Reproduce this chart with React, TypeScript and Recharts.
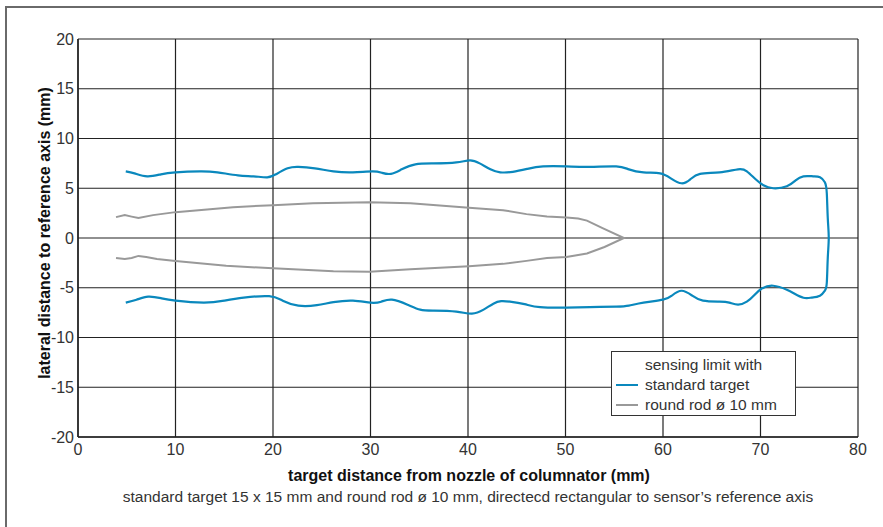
import React from 'react';
import { ComposedChart, Line, XAxis, YAxis, CartesianGrid, Legend, Label } from 'recharts';

type Pt = { x: number; y: number };

const xTicks = [0, 10, 20, 30, 40, 50, 60, 70, 80];
const yTicks = [-20, -15, -10, -5, 0, 5, 10, 15, 20];
const seriesNames = ['standard target', 'round rod ø 10 mm'];

const standardTargetUpper: Pt[] = [
  { x: 4.9, y: 6.7 }, { x: 5.8, y: 6.5 }, { x: 7.1, y: 6.2 }, { x: 8.5, y: 6.4 }, { x: 10, y: 6.6 },
  { x: 12.5, y: 6.7 }, { x: 14.3, y: 6.6 }, { x: 16.4, y: 6.3 }, { x: 18, y: 6.2 }, { x: 19.4, y: 6.1 },
  { x: 20.3, y: 6.4 }, { x: 21.5, y: 7.0 }, { x: 22.6, y: 7.15 }, { x: 24.3, y: 7.0 }, { x: 26.2, y: 6.7 },
  { x: 28.2, y: 6.6 }, { x: 30.2, y: 6.7 }, { x: 31.2, y: 6.55 }, { x: 32.1, y: 6.45 }, { x: 33.2, y: 6.9 },
  { x: 34.6, y: 7.4 }, { x: 36.5, y: 7.5 }, { x: 38.8, y: 7.6 }, { x: 40.2, y: 7.8 }, { x: 41.2, y: 7.5 },
  { x: 42.3, y: 6.9 }, { x: 43.3, y: 6.6 }, { x: 44.6, y: 6.65 }, { x: 46.1, y: 6.95 }, { x: 47.7, y: 7.2 },
  { x: 50.1, y: 7.2 }, { x: 52.5, y: 7.15 }, { x: 55.2, y: 7.2 }, { x: 56.5, y: 6.9 }, { x: 58, y: 6.6 },
  { x: 59.7, y: 6.5 }, { x: 60.8, y: 6.0 }, { x: 61.9, y: 5.5 }, { x: 62.8, y: 5.9 }, { x: 63.8, y: 6.45 },
  { x: 65.8, y: 6.6 }, { x: 67.7, y: 6.9 }, { x: 68.6, y: 6.7 }, { x: 69.5, y: 5.9 }, { x: 70.3, y: 5.3 },
  { x: 71.3, y: 5.0 }, { x: 72.7, y: 5.2 }, { x: 73.6, y: 5.8 }, { x: 74.4, y: 6.2 }, { x: 75.4, y: 6.2 },
  { x: 76.1, y: 6.1 }, { x: 76.6, y: 5.6 },
];

const standardTargetEnd: Pt[] = [
  { x: 76.8, y: 4.5 }, { x: 76.9, y: 2.0 }, { x: 77.0, y: 0 }, { x: 76.9, y: -2.0 }, { x: 76.8, y: -4.5 },
];

const standardTargetLower: Pt[] = [
  { x: 76.6, y: -5.3 }, { x: 76.1, y: -5.8 }, { x: 75.2, y: -6.0 }, { x: 74.4, y: -6.0 }, { x: 73.5, y: -5.6 },
  { x: 72.7, y: -5.2 }, { x: 71.3, y: -4.8 }, { x: 70.1, y: -5.1 }, { x: 69.3, y: -5.8 }, { x: 68.6, y: -6.4 },
  { x: 67.7, y: -6.7 }, { x: 66.8, y: -6.5 }, { x: 65.8, y: -6.4 }, { x: 64.1, y: -6.3 }, { x: 63.0, y: -5.8 },
  { x: 61.9, y: -5.3 }, { x: 60.9, y: -5.8 }, { x: 60, y: -6.2 }, { x: 58, y: -6.5 }, { x: 56.5, y: -6.8 },
  { x: 55.2, y: -6.9 }, { x: 52.5, y: -6.95 }, { x: 50.1, y: -7.0 }, { x: 47.4, y: -6.95 }, { x: 45.8, y: -6.65 },
  { x: 44.3, y: -6.4 }, { x: 43.4, y: -6.35 }, { x: 42.6, y: -6.6 }, { x: 41.6, y: -7.2 }, { x: 40.4, y: -7.6 },
  { x: 38.8, y: -7.4 }, { x: 36.5, y: -7.3 }, { x: 35.1, y: -7.2 }, { x: 33.8, y: -6.7 }, { x: 32.2, y: -6.2 },
  { x: 31.1, y: -6.4 }, { x: 30, y: -6.5 }, { x: 28.2, y: -6.3 }, { x: 26.2, y: -6.45 }, { x: 24.5, y: -6.75 },
  { x: 22.6, y: -6.8 }, { x: 21, y: -6.3 }, { x: 19.6, y: -5.85 }, { x: 17, y: -6.0 }, { x: 15, y: -6.3 },
  { x: 12.9, y: -6.5 }, { x: 10, y: -6.3 }, { x: 8.5, y: -6.05 }, { x: 7.2, y: -5.9 }, { x: 6, y: -6.2 },
  { x: 4.9, y: -6.5 },
];

const roundRodUpper: Pt[] = [
  { x: 3.9, y: 2.1 }, { x: 4.8, y: 2.3 }, { x: 5.5, y: 2.15 }, { x: 6.2, y: 2.0 }, { x: 7.7, y: 2.3 },
  { x: 10, y: 2.6 }, { x: 15.9, y: 3.1 }, { x: 20, y: 3.3 }, { x: 24.1, y: 3.5 }, { x: 29.9, y: 3.6 },
  { x: 34.1, y: 3.5 }, { x: 40.1, y: 3.05 }, { x: 43.6, y: 2.8 }, { x: 46, y: 2.4 }, { x: 48.1, y: 2.15 },
  { x: 50.1, y: 2.05 }, { x: 51.3, y: 1.95 }, { x: 52.2, y: 1.75 }, { x: 53.8, y: 1.0 }, { x: 56, y: 0 },
];

const roundRodLower: Pt[] = [
  { x: 54, y: -0.9 }, { x: 52.2, y: -1.55 }, { x: 50.1, y: -1.9 }, { x: 48.1, y: -2.0 }, { x: 46, y: -2.3 },
  { x: 43.6, y: -2.6 }, { x: 40.1, y: -2.85 }, { x: 34.1, y: -3.15 }, { x: 29.9, y: -3.4 }, { x: 26.2, y: -3.35 },
  { x: 20, y: -3.05 }, { x: 15.2, y: -2.8 }, { x: 10, y: -2.3 }, { x: 8.1, y: -2.1 }, { x: 7, y: -1.9 },
  { x: 6.2, y: -1.8 }, { x: 5.5, y: -2.0 }, { x: 4.8, y: -2.1 }, { x: 3.9, y: -2.0 },
];

const standardTarget = [...standardTargetUpper, ...standardTargetEnd, ...standardTargetLower];
const roundRod = [...roundRodUpper, ...roundRodLower];

const FONT = '"Liberation Sans", Arial, sans-serif';
const TEXT = '#333';

const XLabelContent = (props: any) => {
  const vb = props.viewBox || {};
  const cx = vb.x + vb.width / 2;
  return (
    <g>
      <text x={cx + 1} y={481} textAnchor="middle" fontFamily={FONT} fontWeight="bold" fontSize={16} fill="#111">
        target distance from nozzle of columnator (mm)
      </text>
      <text x={cx} y={502} textAnchor="middle" fontFamily={FONT} fontSize={15.5} fill={TEXT}>
        standard target 15 x 15 mm and round rod ø 10 mm, directecd rectangular to sensor’s reference axis
      </text>
    </g>
  );
};

const YLabelContent = (props: any) => {
  const vb = props.viewBox || {};
  const cy = vb.y + vb.height / 2 - 5;
  return (
    <text
      x={44}
      y={cy}
      transform={`rotate(-90, 44, ${cy})`}
      textAnchor="middle"
      dominantBaseline="central"
      fontFamily={FONT}
      fontWeight="bold"
      fontSize={16}
      fill="#111"
    >
      lateral distance to reference axis (mm)
    </text>
  );
};

const renderLegend = (props: any) => {
  const payload = [...(props.payload || [])].sort(
    (a: any, b: any) => seriesNames.indexOf(a.value) - seriesNames.indexOf(b.value)
  );
  return (
    <div
      style={{
        border: '1.5px solid #333',
        background: '#fff',
        width: 185,
        height: 65,
        boxSizing: 'border-box',
        padding: '3px 0 0 4px',
        fontFamily: FONT,
        fontSize: 15.5,
        color: TEXT,
        lineHeight: '20px',
      }}
    >
      <div style={{ paddingLeft: 29 }}>sensing limit with</div>
      {payload.map((p: any) => (
        <div key={p.value} style={{ display: 'flex', alignItems: 'center' }}>
          <span style={{ display: 'inline-block', width: 22, height: 2, background: p.color, marginRight: 7 }} />
          <span>{p.value}</span>
        </div>
      ))}
    </div>
  );
};

export default function App() {
  return (
    <div style={{ position: 'absolute', left: 0, top: 0, width: 883, height: 527, background: '#fff', overflow: 'hidden' }}>
      <div
        style={{
          position: 'absolute',
          left: 5,
          top: 6,
          right: 0,
          bottom: 0,
          borderTop: '2px solid #6a6a6a',
          borderLeft: '2px solid #6a6a6a',
        }}
      />
      <ComposedChart width={883} height={527} margin={{ top: 39, right: 25, bottom: 30, left: 0 }}>
        <CartesianGrid stroke="#222" strokeWidth={1.2} />
        <XAxis
          type="number"
          dataKey="x"
          domain={[0, 80]}
          ticks={xTicks}
          allowDataOverflow
          height={60}
          tickLine={false}
          tickSize={0}
          tickMargin={7}
          axisLine={{ stroke: '#222', strokeWidth: 1.5 }}
          tick={{ fill: TEXT, fontSize: 16, fontFamily: FONT }}
        >
          <Label content={XLabelContent} />
        </XAxis>
        <YAxis
          type="number"
          dataKey="y"
          domain={[-20, 20]}
          ticks={yTicks}
          allowDataOverflow
          width={78}
          tickLine={false}
          tickSize={0}
          tickMargin={4}
          axisLine={{ stroke: '#222', strokeWidth: 1.5 }}
          tick={{ fill: TEXT, fontSize: 16, fontFamily: FONT }}
        >
          <Label content={YLabelContent} />
        </YAxis>
        <Legend
          layout="vertical"
          align="center"
          verticalAlign="middle"
          content={renderLegend}
          wrapperStyle={{ left: 611, top: 351, width: 185, height: 65 }}
        />
        <Line
          data={standardTarget}
          dataKey="y"
          name="standard target"
          type="natural"
          stroke="#0a88bd"
          strokeWidth={2.2}
          dot={false}
          activeDot={false}
          isAnimationActive={false}
        />
        <Line
          data={roundRod}
          dataKey="y"
          name="round rod ø 10 mm"
          type="linear"
          stroke="#999"
          strokeWidth={2}
          dot={false}
          activeDot={false}
          isAnimationActive={false}
        />
      </ComposedChart>
    </div>
  );
}
